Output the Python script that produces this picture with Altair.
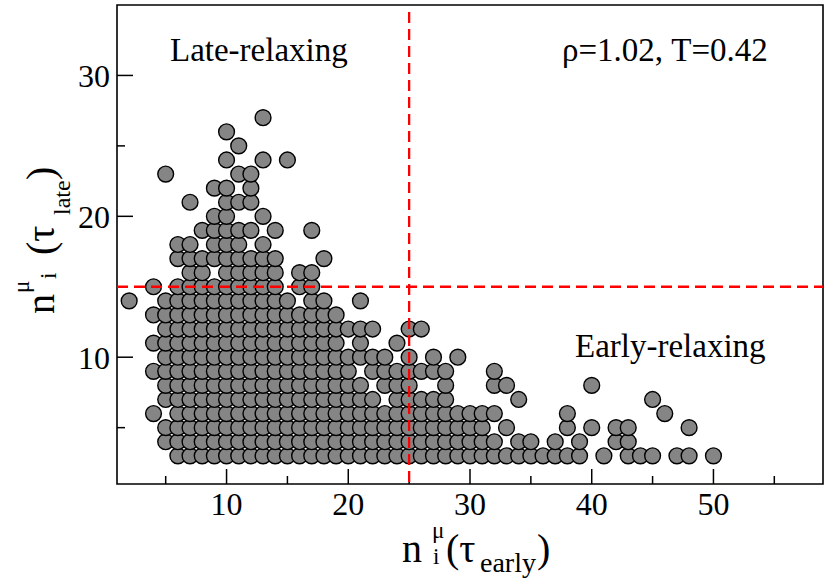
import altair as alt
import pandas as pd

# ---- data: x values (n_i(tau_early)) present in each row of n_i(tau_late) ----
row_y27 = [13]
row_y26 = [10]
row_y25 = [11]
row_y24 = [10, 13, 15]
row_y23 = [5, 11, 12]
row_y22 = [9, 10, 12]
row_y21 = [7, 10, 11, 12]
row_y20 = [9, 10, 13]
row_y19 = [8, 9, 10, 11, 12, 14, 17]
row_y18 = [6, 7, 9, 10, 11, 13]
row_y17 = [6, 7, 8, 9, 10, 11, 12, 13, 14, 18]
row_y16 = [7, 8, 10, 11, 12, 13, 14, 16, 17]
row_y15 = [4, 6, 7, 8, 9, 10, 11, 12, 13, 14, 16, 17]
row_y14 = [2, 5, 6, 7, 8, 9, 10, 11, 12, 13, 14, 15, 17, 18, 21]
row_y13 = [4, 5, 6, 7, 8, 9, 10, 11, 12, 13, 14, 15, 16, 17, 18, 19]
row_y12 = [5, 6, 7, 8, 9, 10, 11, 12, 13, 14, 15, 16, 17, 18, 19, 20, 21, 22, 25, 26]
row_y11 = [4, 5, 6, 7, 8, 9, 10, 11, 12, 13, 14, 15, 16, 17, 18, 19, 21, 24]
row_y10 = [5, 6, 7, 8, 9, 10, 11, 12, 13, 14, 15, 16, 17, 18, 19, 20, 21, 22, 23, 25, 27, 29]
row_y9 = [4, 5, 6, 7, 8, 9, 10, 11, 12, 13, 14, 15, 16, 17, 18, 19, 20, 22, 23, 24, 25, 26, 27, 28, 32]
row_y8 = [5, 6, 7, 8, 9, 10, 11, 12, 13, 14, 15, 16, 17, 18, 19, 20, 21, 23, 24, 25, 28, 32, 33, 40]
row_y7 = [5, 6, 7, 8, 9, 10, 11, 12, 13, 14, 15, 16, 17, 18, 19, 20, 21, 22, 24, 25, 26, 27, 28, 34, 45]
row_y6 = [4, 6, 7, 8, 9, 10, 11, 12, 13, 14, 15, 16, 17, 18, 19, 20, 21, 22, 23, 24, 25, 26, 27, 28,
          29, 30, 31, 32, 38, 46]
row_y5 = [5, 6, 7, 8, 9, 10, 11, 12, 13, 14, 15, 16, 17, 18, 19, 20, 21, 22, 23, 24, 25, 26, 27, 28,
          29, 30, 31, 33, 38, 40, 42, 43, 48]
row_y4 = [5, 6, 7, 8, 9, 10, 11, 12, 13, 14, 15, 16, 17, 18, 19, 20, 21, 22, 23, 24, 25, 26, 27, 28,
          29, 30, 31, 32, 34, 35, 37, 39, 42, 43]
row_y3 = [6, 7, 8, 9, 10, 11, 12, 13, 14, 15, 16, 17, 18, 19, 20, 21, 22, 23, 24, 25, 26, 27, 28,
          29, 30, 31, 32, 33, 34, 35, 36, 37, 38, 39, 41, 43, 44, 45, 47, 48, 50]

rows = {
    27: row_y27, 26: row_y26, 25: row_y25, 24: row_y24, 23: row_y23, 22: row_y22,
    21: row_y21, 20: row_y20, 19: row_y19, 18: row_y18, 17: row_y17, 16: row_y16,
    15: row_y15, 14: row_y14, 13: row_y13, 12: row_y12, 11: row_y11, 10: row_y10,
    9: row_y9, 8: row_y8, 7: row_y7, 6: row_y6, 5: row_y5, 4: row_y4, 3: row_y3,
}

x_major = [10, 20, 30, 40, 50]
x_minor = [5, 15, 25, 35, 45, 55]
y_major = [10, 20, 30]
y_minor = [5, 15, 25]
split_x = [25]
split_y = [15]

recs = []
for yv in sorted(rows):
    for xv in rows[yv]:
        recs.append({"x": xv, "y": yv})
df = pd.DataFrame(recs)

W, H = 706, 479
FONT = "Liberation Serif"

xs = alt.Scale(domain=[1, 59], nice=False, zero=False)
ys = alt.Scale(domain=[1, 35], nice=False, zero=False)

points = alt.Chart(df).mark_circle(
    size=250, fill="#858585", stroke="black", strokeWidth=1.4, opacity=1, fillOpacity=1
).encode(
    x=alt.X("x:Q", scale=xs, axis=None),
    y=alt.Y("y:Q", scale=ys, axis=None),
)

def xticks(vals, length):
    return alt.Chart(pd.DataFrame({"x": vals})).mark_rule(color="black", strokeWidth=1.5).encode(
        x=alt.X("x:Q", scale=xs, axis=None), y=alt.value(H), y2=alt.value(H - length))

def yticks(vals, length):
    return alt.Chart(pd.DataFrame({"y": vals})).mark_rule(color="black", strokeWidth=1.5).encode(
        y=alt.Y("y:Q", scale=ys, axis=None), x=alt.value(0), x2=alt.value(length))

# tick labels drawn through the scales
xlab = alt.Chart(pd.DataFrame({"x": x_major})).mark_text(
    font=FONT, fontSize=32, color="black", align="center", baseline="alphabetic"
).encode(x=alt.X("x:Q", scale=xs, axis=None), y=alt.value(H + 31), text=alt.Text("x:Q"))

ylab = alt.Chart(pd.DataFrame({"y": y_major})).mark_text(
    font=FONT, fontSize=32, color="black", align="right", baseline="alphabetic", dy=12
).encode(y=alt.Y("y:Q", scale=ys, axis=None), x=alt.value(-7), text=alt.Text("y:Q"))

vline = alt.Chart(pd.DataFrame({"x": split_x})).mark_rule(
    color="#ff0000", strokeWidth=2.3, strokeDash=[11, 6]
).encode(x=alt.X("x:Q", scale=xs, axis=None), y=alt.value(7), y2=alt.value(H))

hline = alt.Chart(pd.DataFrame({"y": split_y})).mark_rule(
    color="#ff0000", strokeWidth=2.3, strokeDash=[11, 6]
).encode(y=alt.Y("y:Q", scale=ys, axis=None), x=alt.value(0), x2=alt.value(W))

def label(txt, x, y, size, angle=0):
    kw = dict(font=FONT, fontSize=size, color="black", align="left", baseline="alphabetic",
              text=txt)
    if angle:
        kw["angle"] = angle
    return alt.Chart(pd.DataFrame({"k": [0]})).mark_text(**kw).encode(
        x=alt.value(x), y=alt.value(y))

annots = [
    label("Late-relaxing", 53, 56, 33),
    label("ρ=1.02, T=0.42", 445, 56, 33),
    label("Early-relaxing", 458, 352, 33),
    # x title: n^μ_i(τ_early)
    label("n", 285, 557, 40),
    label("μ", 315, 533, 23),
    label("i", 316, 559, 23),
    label("(τ", 329, 557, 40),
    label("early", 363, 567, 28),
    label(")", 420, 557, 40),
    # y title: n^μ_i(τ_late)
    label("n", -63, 309, 40, 270),
    label("μ", -88, 288, 23, 270),
    label("i", -61, 274, 23, 270),
    label("(τ", -63, 250, 40, 270),
    label("late", -47, 210, 24, 270),
    label(")", -63, 175, 40, 270),
]

chart = alt.layer(
    points,
    xticks(x_major, 15), xticks(x_minor, 8),
    yticks(y_major, 16), yticks(y_minor, 8),
    xlab, ylab,
    vline, hline,
    *annots,
).properties(
    width=W, height=H,
    autosize=alt.AutoSizeParams(type="none"),
    padding={"left": 117, "top": 5, "right": 5, "bottom": 101},
).configure_view(
    stroke="black", strokeWidth=1.6
)

chart.save("out.html", embed_options={"renderer": "svg", "actions": False})
